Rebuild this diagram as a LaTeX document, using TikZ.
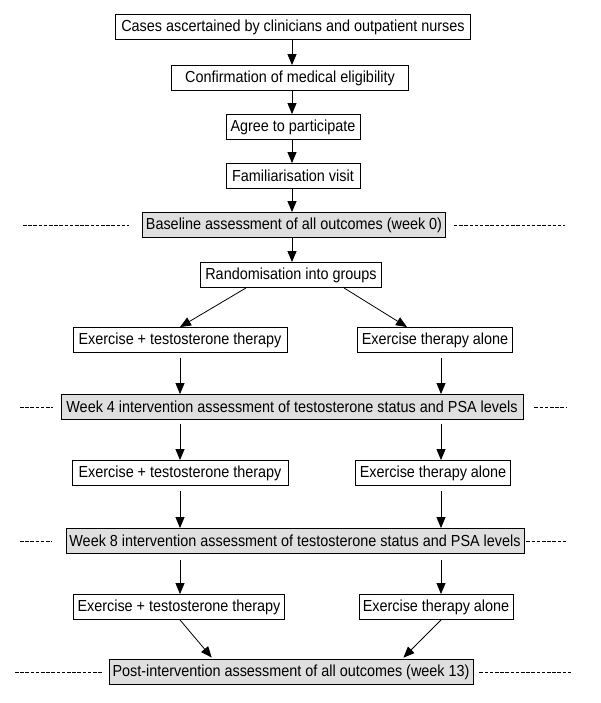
\documentclass[tikz,border=0pt]{standalone}
\usepackage{fontspec}
\setmainfont{Liberation Sans}[FakeStretch=0.9]
\usepackage{tikz}
\usetikzlibrary{arrows.meta, positioning, calc}

\begin{document}
\begin{tikzpicture}[
    x=1pt, y=-1pt,
    font=\fontsize{16}{18}\selectfont,
    stage/.style={rectangle, draw=black, fill=white, line width=0.9pt, minimum height=25pt, inner sep=2pt},
    assess/.style={stage, fill=gray!25},
    arrow/.style={-{Triangle[length=11pt, width=9pt]}, line width=0.8pt},
    sep/.style={dash pattern=on 3.5pt off 1.7pt, line width=0.9pt}
]
    \useasboundingbox (0,0) rectangle (600,703);

    % Columns for the arrows
    \coordinate (mcol) at (292,0);
    \coordinate (lcol) at (180,0);
    \coordinate (rcol) at (441,0);

    % Recruitment
    \node[stage, minimum width=355pt] (cases) at (293,27) {Cases ascertained by clinicians and outpatient nurses};
    \node[stage, minimum width=237pt] (confirm) at (290,78) {Confirmation of medical eligibility};
    \node[stage, minimum width=134pt] (agree) at (293,127) {Agree to participate};
    \node[stage, minimum width=134pt] (famil) at (293,176) {Familiarisation visit};

    % Baseline
    \node[assess, minimum width=303pt] (base) at (294,225) {Baseline assessment of all outcomes (week 0)};
    \node[stage, minimum width=181pt] (rand) at (291,275) {Randomisation into groups};

    % Weeks 0-4
    \node[stage, minimum width=214pt] (exA) at (180,340) {Exercise + testosterone therapy};
    \node[stage, minimum width=155pt] (aloneA) at (435,340) {Exercise therapy alone};
    \node[assess, minimum width=462pt] (wk4) at (292,407) {Week 4 intervention assessment of testosterone status and PSA levels};

    % Weeks 4-8
    \node[stage, minimum width=216pt] (exB) at (180,473) {Exercise + testosterone therapy};
    \node[stage, minimum width=155pt] (aloneB) at (433,473) {Exercise therapy alone};
    \node[assess, minimum width=458pt] (wk8) at (295,541) {Week 8 intervention assessment of testosterone status and PSA levels};

    % Weeks 8-13
    \node[stage, minimum width=211pt] (exC) at (179,607) {Exercise + testosterone therapy};
    \node[stage, minimum width=154pt] (aloneC) at (436,607) {Exercise therapy alone};
    \node[assess, minimum width=364pt] (post) at (291,672) {Post-intervention assessment of all outcomes (week 13)};

    % Arrows
    \draw[arrow] (cases.south -| mcol) -- (confirm.north -| mcol);
    \draw[arrow] (confirm.south -| mcol) -- (agree.north -| mcol);
    \draw[arrow] (agree.south -| mcol) -- (famil.north -| mcol);
    \draw[arrow] (famil.south -| mcol) -- (base.north -| mcol);
    \draw[arrow] (base.south -| mcol) -- (rand.north -| mcol);
    \draw[arrow] ([xshift=-45pt]rand.south) -- (exA.north -| lcol);
    \draw[arrow] ([xshift=53pt]rand.south) -- ([xshift=-28pt]aloneA.north);
    \draw[arrow, shorten <=5pt] (exA.south -| lcol) -- (wk4.north -| lcol);
    \draw[arrow, shorten <=5pt] (aloneA.south -| rcol) -- (wk4.north -| rcol);
    \draw[arrow, shorten <=4pt] (wk4.south -| lcol) -- (exB.north -| lcol);
    \draw[arrow, shorten <=4pt] (wk4.south -| rcol) -- (aloneB.north -| rcol);
    \draw[arrow, shorten <=5pt] (exB.south -| lcol) -- (wk8.north -| lcol);
    \draw[arrow, shorten <=5pt] (aloneB.south -| rcol) -- (wk8.north -| rcol);
    \draw[arrow, shorten <=6pt] (wk8.south -| lcol) -- (exC.north -| lcol);
    \draw[arrow, shorten <=6pt] (wk8.south -| rcol) -- (aloneC.north -| rcol);
    \draw[arrow, shorten >=2pt] (exC.south -| lcol) -- ([xshift=-78pt]post.north);
    \draw[arrow, shorten >=2pt] (aloneC.south -| rcol) -- ([xshift=111pt]post.north);

    % Dashed time markers
    \draw[sep] (23,225) -- ([xshift=-13pt]base.west);
    \draw[sep] ([xshift=8pt]base.east) -- (565,225);
    \draw[sep] (20,407) -- ([xshift=-8pt]wk4.west);
    \draw[sep] ([xshift=11pt]wk4.east) -- (567,407);
    \draw[sep] (20,541) -- ([xshift=-14pt]wk8.west);
    \draw[sep] ([xshift=2pt]wk8.east) -- (567,541);
    \draw[sep] (15,672) -- ([xshift=-6pt]post.west);
    \draw[sep] ([xshift=6pt]post.east) -- (573,672);

\end{tikzpicture}
\end{document}
